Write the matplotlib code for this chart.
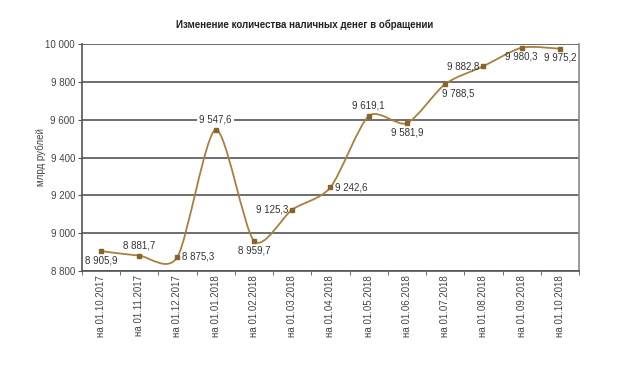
import matplotlib
matplotlib.use('Agg')
import matplotlib.pyplot as plt
from matplotlib.path import Path
from matplotlib.patches import PathPatch
from matplotlib.ticker import FuncFormatter

plt.rcParams['font.family'] = ['Liberation Sans', 'DejaVu Sans']

dates = ['01.10.2017', '01.11.2017', '01.12.2017', '01.01.2018', '01.02.2018',
         '01.03.2018', '01.04.2018', '01.05.2018', '01.06.2018', '01.07.2018',
         '01.08.2018', '01.09.2018', '01.10.2018']
values = [8905.9, 8881.7, 8875.3, 9547.6, 8959.7, 9125.3, 9242.6,
          9619.1, 9581.9, 9788.5, 9882.8, 9980.3, 9975.2]
# where each data label sits relative to its point
label_pos = ['below', 'above', 'right', 'above', 'below', 'left', 'right',
             'above', 'below', 'below_r', 'left', 'below', 'below']

line_color = '#a9803f'
marker_color = '#8a6328'
grid_color = '#555555'


def fmt(v):
    s = '{:,.1f}'.format(v)
    return s.replace(',', ' ').replace('.', ',')


fig = plt.figure(figsize=(6.2, 3.76), dpi=100)
ax = fig.add_axes([0.132, 0.279, 0.802, 0.604])

xs = list(range(len(values)))

# smoothed line (Catmull-Rom style cubic Bezier, like Excel "smoothed line")
k = 0.13
verts = [(xs[0], values[0])]
codes = [Path.MOVETO]
n = len(values)
for i in range(n - 1):
    p0 = (xs[max(i - 1, 0)], values[max(i - 1, 0)])
    p1 = (xs[i], values[i])
    p2 = (xs[i + 1], values[i + 1])
    p3 = (xs[min(i + 2, n - 1)], values[min(i + 2, n - 1)])
    c1 = (p1[0] + (p2[0] - p0[0]) * k, p1[1] + (p2[1] - p0[1]) * k)
    c2 = (p2[0] - (p3[0] - p1[0]) * k, p2[1] - (p3[1] - p1[1]) * k)
    verts += [c1, c2, p2]
    codes += [Path.CURVE4, Path.CURVE4, Path.CURVE4]
ax.add_patch(PathPatch(Path(verts, codes), facecolor='none',
                       edgecolor=line_color, lw=1.3, zorder=3))
ax.plot(xs, values, ls='none', marker='s', ms=3, color=marker_color, zorder=4)

offsets = {'above': (0, 4, 'center', 'bottom'),
           'below': (0, -3, 'center', 'top'),
           'below_r': (9, -3, 'center', 'top'),
           'left': (-3, 0, 'right', 'center'),
           'right': (3, 0, 'left', 'center')}
for x, v, p in zip(xs, values, label_pos):
    dx, dy, ha, va = offsets[p]
    bbox = None
    if x == 3:
        bbox = dict(facecolor='white', edgecolor='none', pad=1.5)
    ax.annotate(fmt(v), (x, v), xytext=(dx, dy), textcoords='offset points',
                ha=ha, va=va, fontsize=7, color='#333333', bbox=bbox, zorder=5)

ax.set_xlim(-0.5, n - 0.5)
ax.set_ylim(8800, 10000)
ax.set_yticks(range(8800, 10001, 200))
ax.yaxis.set_major_formatter(FuncFormatter(lambda v, p: '{:,.0f}'.format(v).replace(',', ' ')))
ax.grid(axis='y', color=grid_color, lw=1.2)
ax.set_axisbelow(True)

ax.set_xticks(xs)
ax.set_xticklabels(['на ' + d for d in dates], rotation=90, fontsize=7, color='#444444')
ax.set_xticks([i - 0.5 for i in range(n + 1)], minor=True)
ax.tick_params(axis='x', which='major', length=0, pad=3)
ax.tick_params(axis='x', which='minor', length=3, color=grid_color)
ax.tick_params(axis='y', length=3, color=grid_color, labelsize=7, labelcolor='#444444', pad=2)

for s in ['left', 'bottom']:
    ax.spines[s].set_color(grid_color)
    ax.spines[s].set_linewidth(1.2)
ax.spines['top'].set_visible(False)
ax.spines['right'].set_color('#888888')
ax.spines['right'].set_linewidth(1.2)

ax.set_ylabel('млрд рублей', fontsize=7, color='#444444', va='center')
ax.yaxis.set_label_coords(-0.083, 0.5)
fig.text(0.492, 0.934, 'Изменение количества наличных денег в обращении',
         ha='center', va='center', fontsize=7, fontweight='bold', color='#222222')

fig.savefig('out.png', dpi=100)
